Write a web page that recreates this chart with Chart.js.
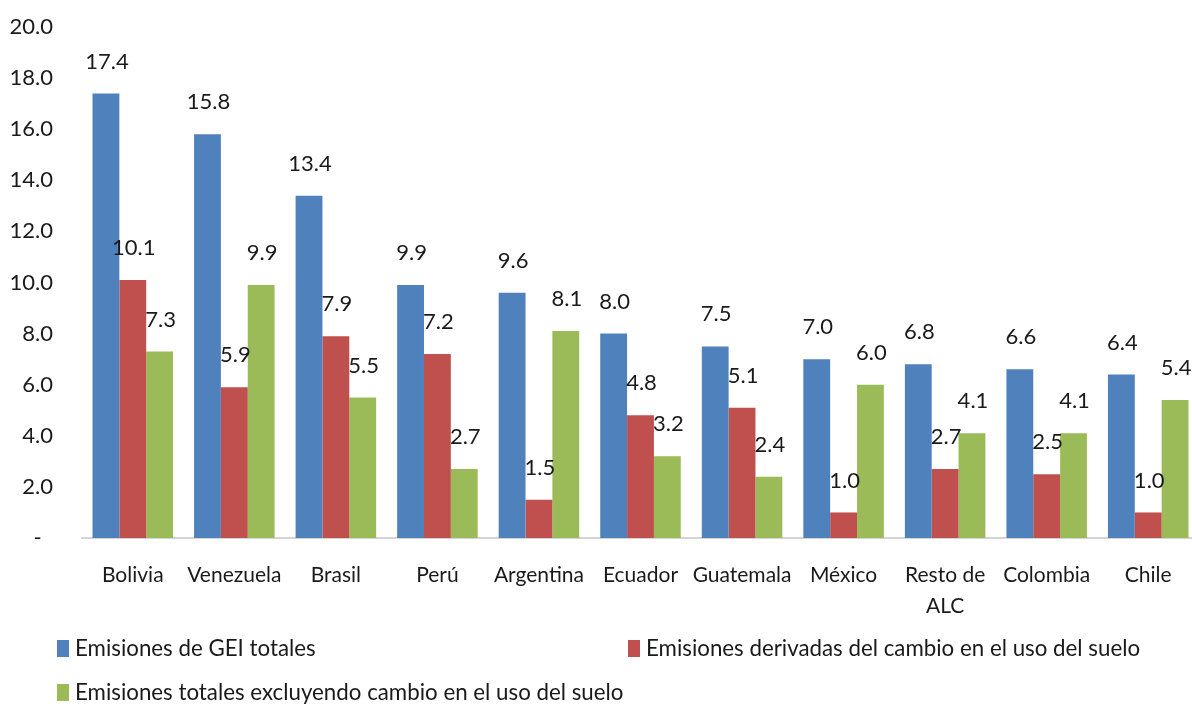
<!DOCTYPE html>
<html>
<head>
<meta charset="utf-8">
<script src="https://cdn.jsdelivr.net/npm/chart.js@4.4.1/dist/chart.umd.min.js"></script>
<style>
    html, body { margin: 0; padding: 0; background: #fff; overflow: hidden; }
    #wrap { width: 1200px; height: 709px; }
</style>
</head>
<body>
<div id="wrap"><canvas id="emisionesChart" width="1200" height="709"></canvas></div>
<script>
// --- DATA ---
const countries = ['Bolivia', 'Venezuela', 'Brasil', 'Perú', 'Argentina', 'Ecuador', 'Guatemala', 'México', ['Resto de', 'ALC'], 'Colombia', 'Chile'];
const totalEmissions = [17.4, 15.8, 13.4, 9.9, 9.6, 8.0, 7.5, 7.0, 6.8, 6.6, 6.4];
const landUseEmissions = [10.1, 5.9, 7.9, 7.2, 1.5, 4.8, 5.1, 1.0, 2.7, 2.5, 1.0];
const excludingLandUse = [7.3, 9.9, 5.5, 2.7, 8.1, 3.2, 2.4, 6.0, 4.1, 4.1, 5.4];
const seriesLabels = [
    'Emisiones de GEI totales',
    'Emisiones derivadas del cambio en el uso del suelo',
    'Emisiones totales excluyendo cambio en el uso del suelo'
];
const seriesColors = ['#4F81BD', '#C0504D', '#9BBB59'];

const FONT = 'Lato, "Liberation Sans", sans-serif';
const TEXT_COLOR = '#1a1a1a';

// --- PLUGINS ---
const barValueLabels = {
    id: 'barValueLabels',
    afterDatasetsDraw(chart) {
        const ctx = chart.ctx;
        ctx.save();
        ctx.font = `22px ${FONT}`;
        ctx.fillStyle = TEXT_COLOR;
        ctx.textAlign = 'center';
        ctx.textBaseline = 'middle';
        chart.data.datasets.forEach((ds, i) => {
            chart.getDatasetMeta(i).data.forEach((bar, j) => {
                ctx.fillText(ds.data[j].toFixed(1), bar.x + 1, bar.y - 32);
            });
        });
        ctx.restore();
    }
};

// legend laid out like the original: two items on the first row, one below
const customLegend = {
    id: 'customLegend',
    afterDraw(chart) {
        const ctx = chart.ctx;
        const spots = [
            { x: 57, y: 648 },
            { x: 628, y: 648 },
            { x: 57, y: 692 }
        ];
        ctx.save();
        ctx.font = `22.3px ${FONT}`;
        ctx.textAlign = 'left';
        ctx.textBaseline = 'middle';
        chart.data.datasets.forEach((ds, i) => {
            const p = spots[i];
            ctx.fillStyle = ds.backgroundColor;
            ctx.fillRect(p.x, p.y - 8, 12, 17);
            ctx.fillStyle = TEXT_COLOR;
            ctx.fillText(ds.label, p.x + 18, p.y + 1);
        });
        ctx.restore();
    }
};

// --- CHART ---
const ctx = document.getElementById('emisionesChart').getContext('2d');
new Chart(ctx, {
    type: 'bar',
    data: {
        labels: countries,
        datasets: [
            { label: seriesLabels[0], data: totalEmissions, backgroundColor: seriesColors[0] },
            { label: seriesLabels[1], data: landUseEmissions, backgroundColor: seriesColors[1] },
            { label: seriesLabels[2], data: excludingLandUse, backgroundColor: seriesColors[2] }
        ]
    },
    options: {
        responsive: false,
        animation: false,
        layout: { padding: { top: 27, right: 1, left: 0, bottom: 0 } },
        datasets: { bar: { categoryPercentage: 0.793, barPercentage: 1.0 } },
        plugins: {
            legend: { display: false },
            tooltip: { enabled: false }
        },
        scales: {
            x: {
                grid: { display: false, drawTicks: false },
                border: { display: true, color: '#d4d4d4', width: 2 },
                ticks: {
                    font: { family: FONT, size: 21, lineHeight: 1.5 },
                    color: TEXT_COLOR,
                    padding: 21,
                    maxRotation: 0,
                    autoSkip: false
                },
                afterFit: (scale) => { scale.height = 171; }
            },
            y: {
                min: 0,
                max: 20,
                grid: { display: false, drawTicks: false },
                border: { display: false },
                ticks: {
                    stepSize: 2,
                    font: { family: FONT, size: 22 },
                    color: TEXT_COLOR,
                    padding: 29,
                    callback: (v) => v === 0 ? '-  ' : v.toFixed(1)
                },
                afterFit: (scale) => {
                    scale.width = 82;
                    // tick padding would otherwise push the plot top down
                    scale.paddingTop = 13;
                    scale.paddingBottom = 13;
                }
            }
        }
    },
    plugins: [barValueLabels, customLegend]
});
</script>
</body>
</html>
